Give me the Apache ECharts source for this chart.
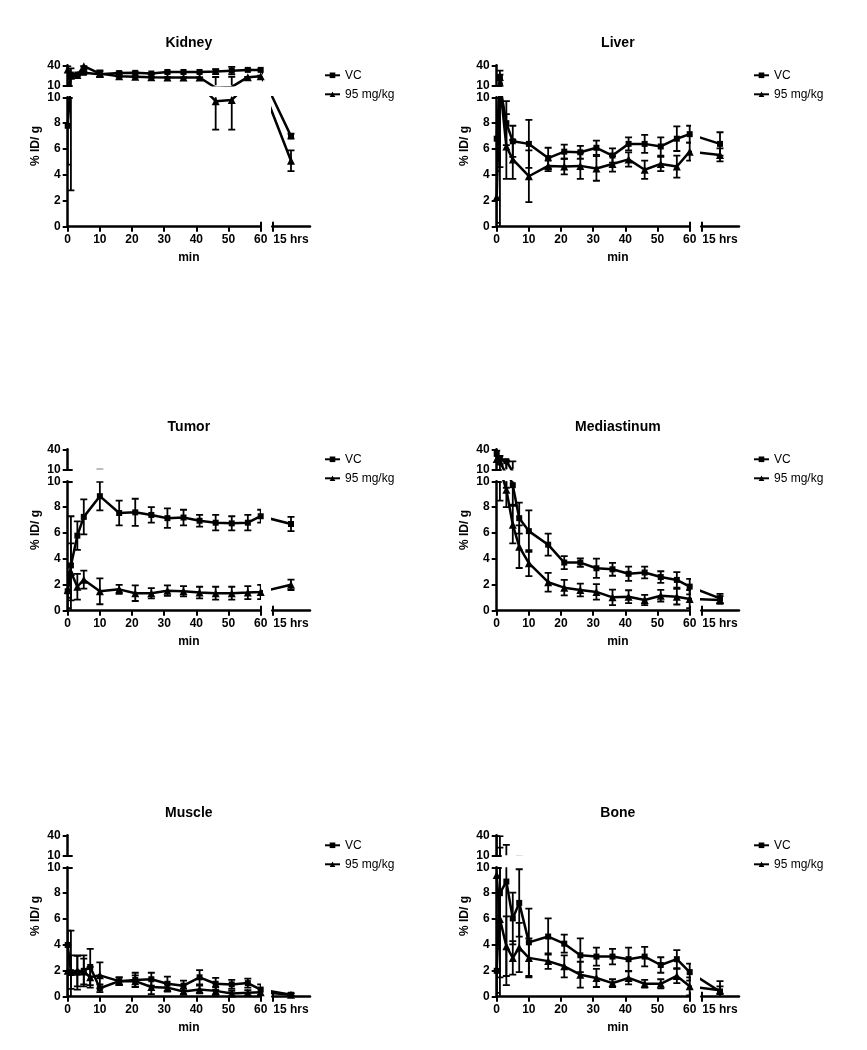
<!DOCTYPE html>
<html>
<head>
<meta charset="utf-8">
<script src="https://cdn.jsdelivr.net/npm/echarts@6/dist/echarts.min.js"></script>
<style>html,body{margin:0;padding:0;background:#fff}#c{width:867px;height:1050px}</style>
</head>
<body>
<div id="c"></div>
<script>
// ---- data: sampling times (min); the 17th value of each series is the late "15 hrs" point ----
const times = [0, 1, 3, 5, 7, 10, 16, 21, 26, 31, 36, 41, 46, 51, 56, 60];
const lateLabel = '15 hrs';
const seriesNames = ['VC', '95 mg/kg'];
const titles = ['Kidney', 'Liver', 'Tumor', 'Mediastinum', 'Muscle', 'Bone'];
const yTicksLow = [0, 2, 4, 6, 8, 10];
const yTicksHigh = [10, 40];
const xTicks = [0, 10, 20, 30, 40, 50, 60];

const kidneyVC   = [7.8, 17.8, 17.8, 22, null, 18.5, 21.4, 21.9, 20.3, 24, 24, 24, 25, 27, 29, 29, 7.0];
const kidneyVCsd = [3, 15, 2, 3, null, 7, 2, 1.5, 1.5, 1.5, 1, 1, 6, 9, 1, 1, 0.2];
const kidneyHi   = [30, 15, 17, 38, null, 20, 13.6, 12.6, 11.6, 10.8, 10.6, 10.6, 9.7, 9.8, 11.5, 14, 5.1];
const kidneyHisd = [8, 3, 2, 1, null, 8, 1.5, 1.5, 1, 0.5, 0.4, 0.4, 2.2, 2.3, 0.5, 1, 0.8];

const liverVC   = [6.8, 11, 8.0, 6.6, null, 6.4, 5.3, 5.8, 5.75, 6.1, 5.5, 6.4, 6.4, 6.2, 6.8, 7.15, 6.4];
const liverVCsd = [2.2, 6.4, 1.7, 1.2, null, 1.85, 0.8, 0.55, 0.5, 0.55, 0.55, 0.5, 0.7, 0.7, 0.95, 0.65, 0.9];
const liverHi   = [2.3, 12, 6.2, 5.2, null, 3.9, 4.7, 4.65, 4.7, 4.5, 4.85, 5.2, 4.4, 4.85, 4.65, 5.8, 5.55];
const liverHisd = [2.0, 15, 2.5, 1.5, null, 2.0, 0.4, 0.6, 1.0, 0.95, 0.6, 0.55, 0.7, 0.55, 0.85, 0.7, 0.5];

const tumorVC   = [1.5, 3.5, 5.8, 7.25, null, 8.85, 7.55, 7.6, 7.4, 7.15, 7.2, 6.95, 6.8, 6.75, 6.8, 7.3, 6.7];
const tumorVCsd = [0.5, 3.8, 1.1, 1.35, null, 1.1, 0.95, 1.05, 0.6, 0.75, 0.6, 0.45, 0.6, 0.55, 0.6, 0.5, 0.55];
const tumorHi   = [1.6, 3.0, 1.85, 2.4, null, 1.5, 1.65, 1.35, 1.35, 1.55, 1.5, 1.4, 1.35, 1.35, 1.4, 1.45, 2.0];
const tumorHisd = [1.4, 2.2, 1.0, 0.7, null, 1.0, 0.35, 0.6, 0.4, 0.4, 0.4, 0.45, 0.5, 0.5, 0.5, 0.55, 0.4];

const mediVC   = [29, 19, 11.5, 9.7, 7.15, 6.15, 5.1, 3.72, 3.72, 3.28, 3.2, 2.85, 2.95, 2.6, 2.38, 1.86, 0.95];
const mediVCsd = [8, 5, 2, 1.5, 1.2, 1.6, 0.85, 0.5, 0.33, 0.75, 0.5, 0.55, 0.45, 0.45, 0.6, 0.6, 0.35];
const mediHi   = [17, 10.5, 9.35, 6.65, 4.95, 3.67, 2.2, 1.78, 1.6, 1.45, 1.03, 1.08, 0.83, 1.16, 1.08, 0.9, 0.83];
const mediHisd = [4, 2, 1.35, 1.45, 1.65, 1.0, 0.72, 0.6, 0.5, 0.6, 0.6, 0.5, 0.4, 0.45, 0.6, 0.7, 0.3];

const muscleVC   = [4.0, 1.9, 1.85, 2.0, 2.3, 0.65, 1.2, 1.3, 1.35, 1.0, 0.85, 1.5, 1.0, 0.95, 1.05, 0.55, 0.15];
const muscleVCsd = [1.1, 3.2, 1.3, 1.2, 1.4, 0.3, 0.3, 0.55, 0.5, 0.55, 0.4, 0.55, 0.45, 0.35, 0.35, 0.4, 0.1];
const muscleHi   = [2.0, 1.9, 2.0, 1.95, 1.5, 1.65, 1.2, 1.2, 0.75, 0.7, 0.4, 0.55, 0.45, 0.25, 0.3, 0.35, 0.15];
const muscleHisd = [2.0, 1.3, 1.2, 1.0, 0.8, 1.0, 0.3, 0.45, 0.55, 0.3, 0.2, 0.3, 0.3, 0.2, 0.2, 0.3, 0.1];

const boneVC   = [2.0, 8.0, 8.9, 6.05, 7.25, 4.2, 4.65, 4.1, 3.2, 3.1, 3.1, 2.9, 3.1, 2.45, 2.9, 1.9, 0.4];
const boneVCsd = [1.7, 30, 8, 2, 2.6, 2.6, 1.4, 0.7, 1.3, 0.7, 0.6, 0.9, 0.75, 0.6, 0.7, 0.65, 0.8];
const boneHi   = [9.4, 6.0, 3.9, 3.0, 3.8, 3.0, 2.75, 2.35, 1.7, 1.45, 1.05, 1.45, 1.0, 1.0, 1.6, 0.8, 0.5];
const boneHisd = [30, 4.5, 2.3, 1.3, 1.9, 1.5, 0.6, 0.85, 1.0, 0.7, 0.3, 0.5, 0.3, 0.35, 0.55, 0.7, 0.3];

// ---- layout (pixels) ----
const FONT = '"Liberation Sans", Arial, sans-serif';
const COLS = [67.7, 496.7];          // x of y-axis
const ROW0 = [226.7, 610.7, 996.7];  // y of value 0
const MIN_W = 193;                   // 0..60 min width
const PX_MIN = MIN_W / 60;
const SEG_H = 129.4, GAP = 12, TOP_H = 20;
const RS0 = 11.6, RS1 = 49.3, LATE_PX = 30.3;

// broken-axis piecewise mapping into a screen-linear virtual space
const PX_UNIT = SEG_H / 10;
const GAP_V = GAP / PX_UNIT;
const TOP_K = (TOP_H / PX_UNIT) / 30;
function yv(v) { return v <= 10 ? v : 10 + GAP_V + (v - 10) * TOP_K; }
function yInv(w) { return w <= 10 ? w : 10 + (w - 10 - GAP_V) / TOP_K; }
const XR0 = 60 + RS0 / PX_MIN, XR1 = 60 + RS1 / PX_MIN, XLATE = 60 + LATE_PX / PX_MIN;
const xAll = times.concat([XLATE]);

const panelData = [
  [kidneyVC, kidneyVCsd, kidneyHi, kidneyHisd],
  [liverVC, liverVCsd, liverHi, liverHisd],
  [tumorVC, tumorVCsd, tumorHi, tumorHisd],
  [mediVC, mediVCsd, mediHi, mediHisd],
  [muscleVC, muscleVCsd, muscleHi, muscleHisd],
  [boneVC, boneVCsd, boneHi, boneHisd]
];

const option = {animation: false, backgroundColor: '#fff', title: [], legend: [], grid: [], xAxis: [], yAxis: [], series: []};

const lineSt = {color: '#000', width: 2.5};
const tickSt = {color: '#000', width: 2};
const labSt = {color: '#000', fontWeight: 'bold', fontSize: 12, fontFamily: FONT, margin: 7};

function addGrid(l, t, w, h) { option.grid.push({left: l, top: t, width: w, height: h}); return option.grid.length - 1; }
function axis(gi, min, max, extra) {
  return Object.assign({
    type: 'value', gridIndex: gi, min: min, max: max,
    axisLine: {show: true, onZero: false, lineStyle: lineSt},
    axisTick: {show: true, length: 5, lineStyle: tickSt},
    axisLabel: Object.assign({show: true}, labSt),
    splitLine: {show: false}
  }, extra || {});
}
function capAxis(gi, min, max, vals, pos) {
  return {
    type: 'value', gridIndex: gi, min: min, max: max, position: pos,
    axisLine: {show: false, onZero: false},
    axisTick: {show: true, inside: true, length: 5, lineStyle: tickSt, customValues: vals},
    axisLabel: {show: false, customValues: vals},
    splitLine: {show: false}
  };
}
function hidden(gi, min, max, pos) {
  return {type: 'value', gridIndex: gi, min: min, max: max, position: pos, show: false, axisLine: {onZero: false}, splitLine: {show: false}};
}
function pushX(a) { option.xAxis.push(a); return option.xAxis.length - 1; }
function pushY(a) { option.yAxis.push(a); return option.yAxis.length - 1; }

function errRender(params, api) {
  const x = api.value(0), lo = api.value(1), hi = api.value(2);
  const p1 = api.coord([x, lo]), p2 = api.coord([x, hi]);
  const w = 3.5, st = {stroke: '#000', lineWidth: 1.8};
  return {type: 'group', children: [
    {type: 'line', shape: {x1: p1[0], y1: p1[1], x2: p2[0], y2: p2[1]}, style: st},
    {type: 'line', shape: {x1: p1[0] - w, y1: p1[1], x2: p1[0] + w, y2: p1[1]}, style: st},
    {type: 'line', shape: {x1: p2[0] - w, y1: p2[1], x2: p2[0] + w, y2: p2[1]}, style: st}
  ]};
}

function addSeries(xi, yi, vals, sds, idx) {
  const pts = [], errs = [];
  vals.forEach((v, i) => {
    if (v === null || v === undefined) return;
    pts.push([xAll[i], yv(v)]);
    errs.push([xAll[i], yv(v - sds[i]), yv(v + sds[i])]);
  });
  option.series.push({
    type: 'custom', name: seriesNames[idx] + ' SD', xAxisIndex: xi, yAxisIndex: yi,
    renderItem: errRender, data: errs, clip: true, encode: {x: 0, y: [1, 2]}, z: 2, silent: true
  });
  option.series.push({
    type: 'line', name: seriesNames[idx], xAxisIndex: xi, yAxisIndex: yi, data: pts, clip: true,
    symbol: idx === 0 ? 'rect' : 'triangle', symbolSize: idx === 0 ? 6 : 8,
    lineStyle: {color: '#000', width: 2.5}, itemStyle: {color: '#000'}, z: 3, silent: true
  });
}

titles.forEach((title, p) => {
  const c = p % 2, r = Math.floor(p / 2);
  const x0 = COLS[c], y0 = ROW0[r];
  const yTop = y0 - SEG_H - GAP - TOP_H;
  const [vc, vcsd, hi, hisd] = panelData[p];

  // bottom-left (0-60 min, 0-10)
  const gBL = addGrid(x0, y0 - SEG_H, MIN_W, SEG_H);
  const xBL = pushX(axis(gBL, 0, 60, {interval: 10, position: 'bottom'}));
  pushX(capAxis(gBL, 0, 60, [60], 'bottom'));
  const yBL = pushY(axis(gBL, 0, 10, {interval: 2, position: 'left'}));
  pushY(capAxis(gBL, 0, 10, [10], 'left'));

  // top-left (0-60 min, 10-40)
  const gTL = addGrid(x0, yTop, MIN_W, TOP_H);
  const xTL = pushX(hidden(gTL, 0, 60, 'bottom'));
  const hv = yTicksHigh.map(yv);
  const yTL = pushY(axis(gTL, hv[0], hv[1], {
    position: 'left',
    axisTick: {show: true, length: 5, lineStyle: tickSt, customValues: hv},
    axisLabel: Object.assign({show: true, customValues: hv, formatter: v => String(Math.round(yInv(v)))}, labSt)
  }));
  pushY(capAxis(gTL, hv[0], hv[1], [hv[0]], 'left'));

  // bottom-right (15 hrs, 0-10)
  const gBR = addGrid(x0 + MIN_W + RS0, y0 - SEG_H, RS1 - RS0, SEG_H);
  const xBR = pushX(axis(gBR, XR0, XR1, {
    position: 'bottom',
    axisTick: {show: true, length: 5, lineStyle: tickSt, customValues: [XR0]},
    axisLabel: Object.assign({show: true, customValues: [XLATE], formatter: () => lateLabel}, labSt)
  }));
  pushX(capAxis(gBR, XR0, XR1, [XR0], 'bottom'));
  const yBR = pushY(hidden(gBR, 0, 10, 'left'));

  // axis names
  const gNM = addGrid(x0, yTop, MIN_W + RS1, SEG_H + GAP + TOP_H);
  pushX({type: 'value', gridIndex: gNM, position: 'bottom', min: 0, max: 1, axisLine: {show: false}, axisTick: {show: false},
    axisLabel: {show: false}, splitLine: {show: false}, name: 'min', nameLocation: 'middle', nameGap: 25,
    nameTextStyle: {color: '#000', fontWeight: 'bold', fontSize: 12, fontFamily: FONT}});
  pushY({type: 'value', gridIndex: gNM, position: 'left', min: 0, max: 1, axisLine: {show: false}, axisTick: {show: false},
    axisLabel: {show: false}, splitLine: {show: false}, name: '% ID/ g', nameLocation: 'middle', nameGap: 26,
    nameTextStyle: {color: '#000', fontWeight: 'bold', fontSize: 12, fontFamily: FONT}});

  [[xBL, yBL], [xTL, yTL], [xBR, yBR]].forEach(([xi, yi]) => {
    addSeries(xi, yi, vc, vcsd, 0);
    addSeries(xi, yi, hi, hisd, 1);
  });

  option.title.push({text: title, left: x0 + (MIN_W + RS1) / 2, top: yTop - 29, textAlign: 'center', padding: 0,
    textStyle: {color: '#000', fontWeight: 'bold', fontSize: 14, fontFamily: FONT}});
  option.legend.push({left: x0 + 256.3, top: yTop + 4, orient: 'vertical', itemWidth: 15, itemHeight: 7,
    itemGap: 7, padding: 0, selectedMode: false, data: seriesNames,
    textStyle: {color: '#000', fontSize: 12, fontFamily: FONT}});
});

const chart = echarts.init(document.getElementById('c'), null, {renderer: 'canvas'});
chart.setOption(option);
</script>
</body>
</html>
